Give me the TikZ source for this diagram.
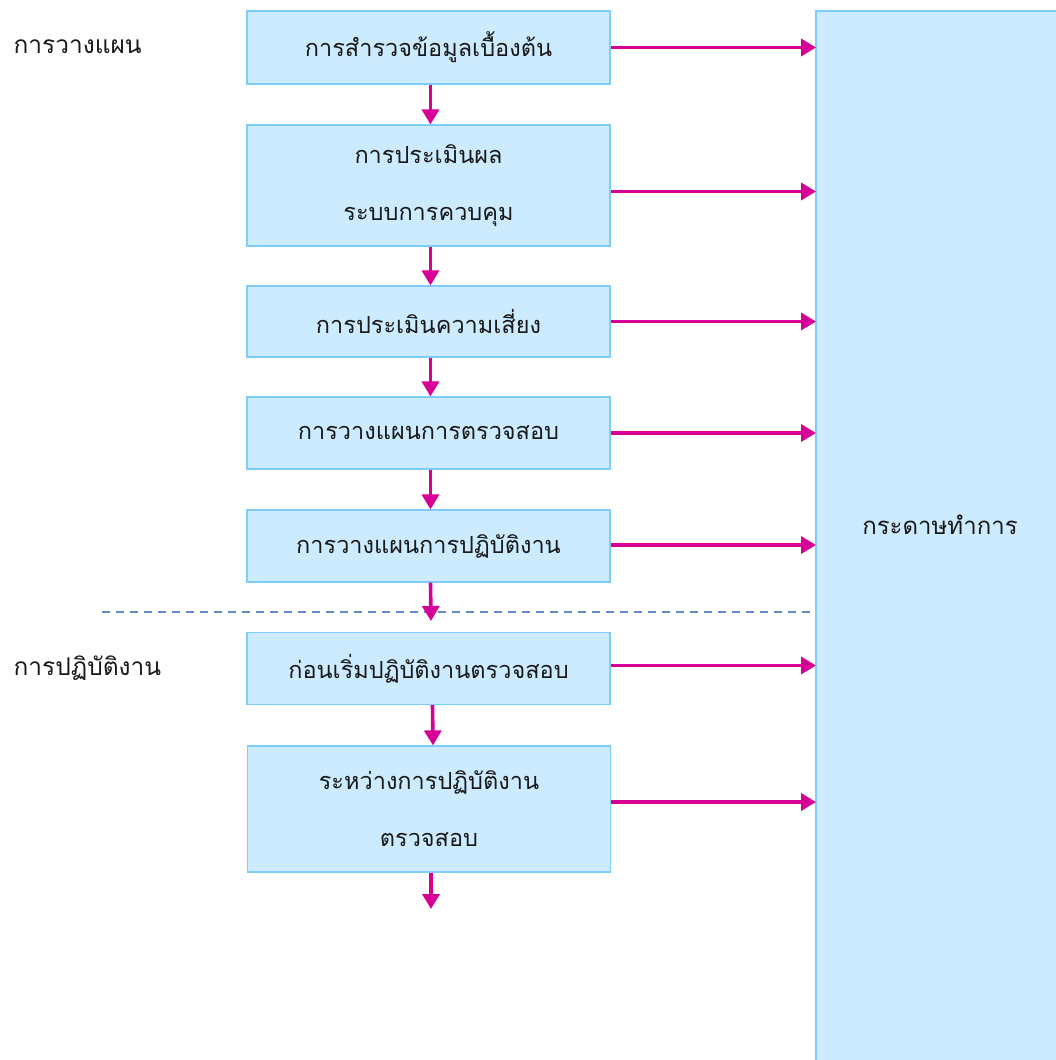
\documentclass[tikz,border=0pt]{standalone}
\usepackage{fontspec}
\newfontfamily\thaifont[Script=Thai]{Loma}
\usetikzlibrary{arrows.meta}
\definecolor{boxfill}{RGB}{204,235,255}
\definecolor{boxline}{RGB}{125,205,248}
\definecolor{flow}{RGB}{214,0,150}
\definecolor{divider}{RGB}{100,140,200}
\definecolor{ink}{RGB}{25,25,25}
\tikzset{
  x=1pt, y=-1pt,
  stage/.style={draw=boxline, line width=1.2pt, fill=boxfill, minimum width=363pt,
    inner sep=0pt, align=center, text=ink, font=\thaifont\fontsize{23.5}{57}\selectfont},
  sheet/.style={draw=boxline, line width=1.5pt, fill=boxfill},
  phase/.style={anchor=west, text=ink, font=\thaifont\fontsize{24.5}{30}\selectfont},
  flowarrow/.style={draw=flow, line width=3.6pt, -{Triangle[length=15pt,width=17pt]}},
}
\begin{document}
\begin{tikzpicture}
\useasboundingbox (0,0) rectangle (1056,1060);

% working-paper column on the right, running off the page edges
\draw[sheet] (816,1075) |- (1075,11);
\fill[boxfill] (817,12) rectangle (1075,1075);
\node[text=ink, font=\thaifont\fontsize{24}{30}\selectfont] (wp) at (940,525) {กระดาษทำการ};
\coordinate (wpedge) at (816,0);

% phase labels
\node[phase] (plan) at (10,47) {การวางแผน};
\node[phase] (perform) at (10,668) {การปฏิบัติงาน};

% audit steps
\node[stage, minimum height=73pt] (b1) at (428.5,47.5) {การสำรวจข้อมูลเบื้องต้น};
\node[stage, minimum height=121pt] (b2) at (428.5,185.5) {การประเมินผล\\ระบบการควบคุม};
\node[stage, minimum height=71pt] (b3) at (428.5,321.5) {การประเมินความเสี่ยง};
\node[stage, minimum height=72pt] (b4) at (428.5,433) {การวางแผนการตรวจสอบ};
\node[stage, minimum height=72pt] (b5) at (428.5,546) {การวางแผนการปฏิบัติงาน};
\node[stage, minimum height=72pt] (b6) at (428.5,668.5) {ก่อนเริ่มปฏิบัติงานตรวจสอบ};
\node[stage, minimum height=126pt] (b7) at (429,809) {ระหว่างการปฏิบัติงาน\\ตรวจสอบ};

% boundary between planning and fieldwork
\coordinate (dl) at (102,612);
\coordinate (dr) at (812,612);
\draw[divider, line width=1.4pt, dash pattern=on 8pt off 6pt] (dl) -- (dr);

% downward flow
\coordinate (b5tip) at (431,621);
\coordinate (b7tip) at (431,909);
\draw[flowarrow] ([xshift=2pt]b1.south) -- ([xshift=2pt]b2.north);
\draw[flowarrow] ([xshift=2pt]b2.south) -- ([xshift=2pt]b3.north);
\draw[flowarrow] ([xshift=2pt]b3.south) -- ([xshift=2pt]b4.north);
\draw[flowarrow] ([xshift=2pt]b4.south) -- ([xshift=2pt]b5.north);
\draw[flowarrow] ([xshift=2pt]b5.south) -- (b5tip);
\draw[flowarrow] ([xshift=4pt]b6.south) -- ([xshift=4pt]b7.north);
\draw[flowarrow] ([xshift=2pt]b7.south) -- (b7tip);

% every step feeds the working papers
\draw[flowarrow] (b1.east) -- (b1.east -| wpedge);
\draw[flowarrow] ([yshift=-6pt]b2.east) -- ([yshift=-6pt]b2.east -| wpedge);
\draw[flowarrow] (b3.east) -- (b3.east -| wpedge);
\draw[flowarrow] (b4.east) -- (b4.east -| wpedge);
\draw[flowarrow] ([yshift=1pt]b5.east) -- ([yshift=1pt]b5.east -| wpedge);
\draw[flowarrow] ([yshift=3pt]b6.east) -- ([yshift=3pt]b6.east -| wpedge);
\draw[flowarrow] ([yshift=7pt]b7.east) -- ([yshift=7pt]b7.east -| wpedge);
\end{tikzpicture}
\end{document}
